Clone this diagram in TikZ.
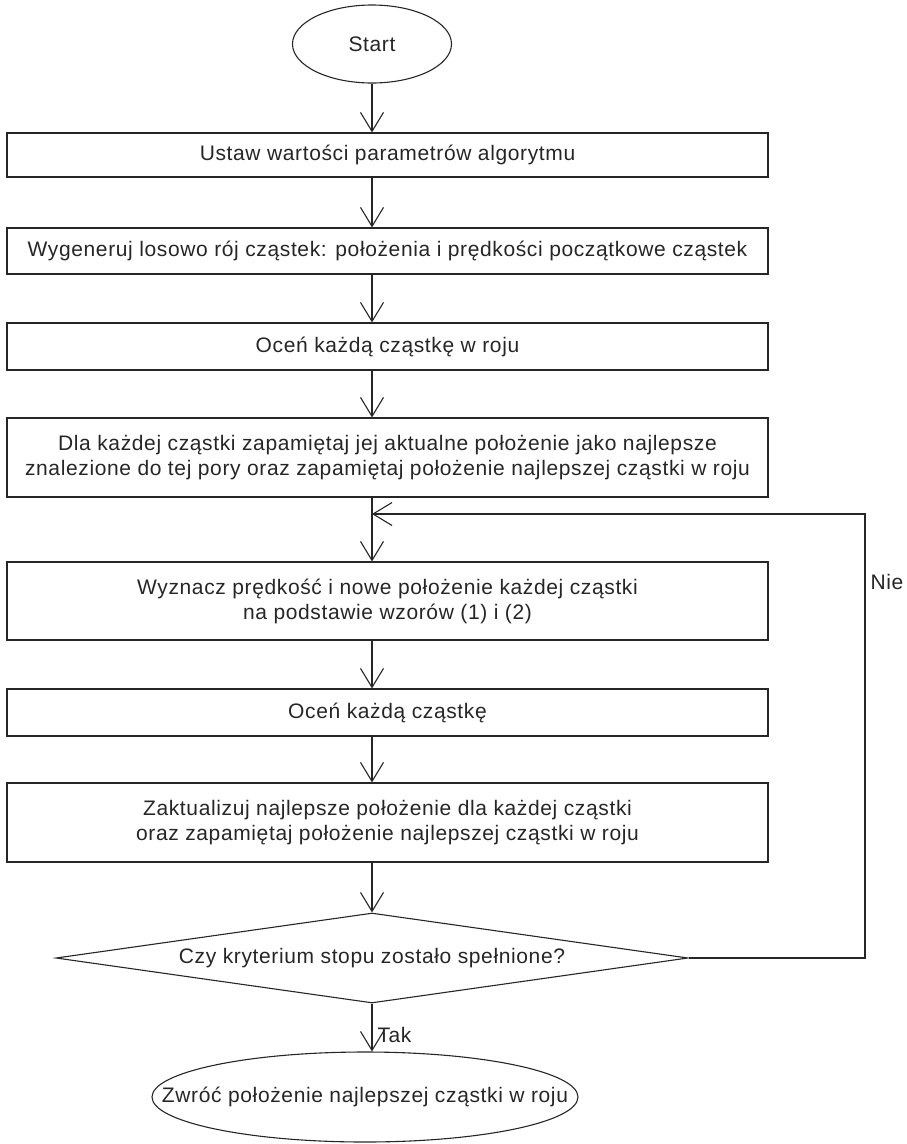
\documentclass[tikz,border=0pt]{standalone}
\usepackage{fontspec}
\setmainfont{Liberation Sans}[LetterSpace=3]
\usetikzlibrary{shapes.geometric,arrows.meta}
\begin{document}
\begin{tikzpicture}[x=1pt,y=-1pt,
  every node/.style={font=\fontsize{21}{25}\selectfont, text=black!85},
  every label/.style={font=\fontsize{21}{25}\selectfont, text=black!85},
  line/.style={draw=black!85, line width=1.1pt},
  arr/.style={line, -{Straight Barb[length=19pt,width=23pt]}},
  procbox/.style={line, rectangle, minimum width=761pt, inner sep=0pt, align=center},
  term/.style={line, ellipse, inner sep=0pt},
  decide/.style={line, diamond, inner sep=0pt, aspect=7.02, minimum width=632pt, minimum height=90pt}]
\useasboundingbox (0,0) rectangle (907,1144);
\node[term, minimum width=159pt, minimum height=78pt] (start) at (372,44) {Start};
\node[procbox, minimum height=44pt] (b1) at (387.5,155) {Ustaw wartości parametrów algorytmu};
\node[procbox, minimum height=46pt] (b2) at (387.5,251) {Wygeneruj losowo rój cząstek: położenia i prędkości początkowe cząstek};
\node[procbox, minimum height=47pt] (b3) at (387.5,346.5) {Oceń każdą cząstkę w roju};
\node[procbox, minimum height=79pt] (b4) at (387.5,457.5) {Dla każdej cząstki zapamiętaj jej aktualne położenie jako najlepsze\\znalezione do tej pory oraz zapamiętaj położenie najlepszej cząstki w roju};
\node[procbox, minimum height=78pt] (b5) at (387.5,601) {Wyznacz prędkość i nowe położenie każdej cząstki\\na podstawie wzorów (1) i (2)};
\node[procbox, minimum height=47pt] (b6) at (387.5,712.5) {Oceń każdą cząstkę};
\node[procbox, minimum height=79pt] (b7) at (387.5,822.5) {Zaktualizuj najlepsze położenie dla każdej cząstki\\oraz zapamiętaj położenie najlepszej cząstki w roju};
\node[decide] (dec) at (372,958) {Czy kryterium stopu zostało spełnione?};
\node[term, minimum width=426pt, minimum height=90pt,
  label={[name=endtext]center:Zwróć położenie najlepszej cząstki w roju}] (end) at (365,1097) {};
\coordinate (loopend) at (372,514);
\coordinate (loopcorner) at (865,958);
\node[anchor=west] (nie) at (867,582) {Nie};
\node[anchor=west] (tak) at (374,1035) {Tak};
\draw[arr] (start.south) -- (b1.north -| start.south);
\draw[arr] (b1.south -| start) -- (b2.north -| start);
\draw[arr] (b2.south -| start) -- (b3.north -| start);
\draw[arr] (b3.south -| start) -- (b4.north -| start);
\draw[arr] (b4.south -| start) -- (b5.north -| start);
\draw[arr] (b5.south -| start) -- (b6.north -| start);
\draw[arr] (b6.south -| start) -- (b7.north -| start);
\draw[arr] (b7.south -| start) -- (dec.north);
\draw[arr] (dec.south) -- (end.north -| dec.south);
\draw[arr] (dec.east) -- (loopcorner) |- (loopend);
\end{tikzpicture}
\end{document}
